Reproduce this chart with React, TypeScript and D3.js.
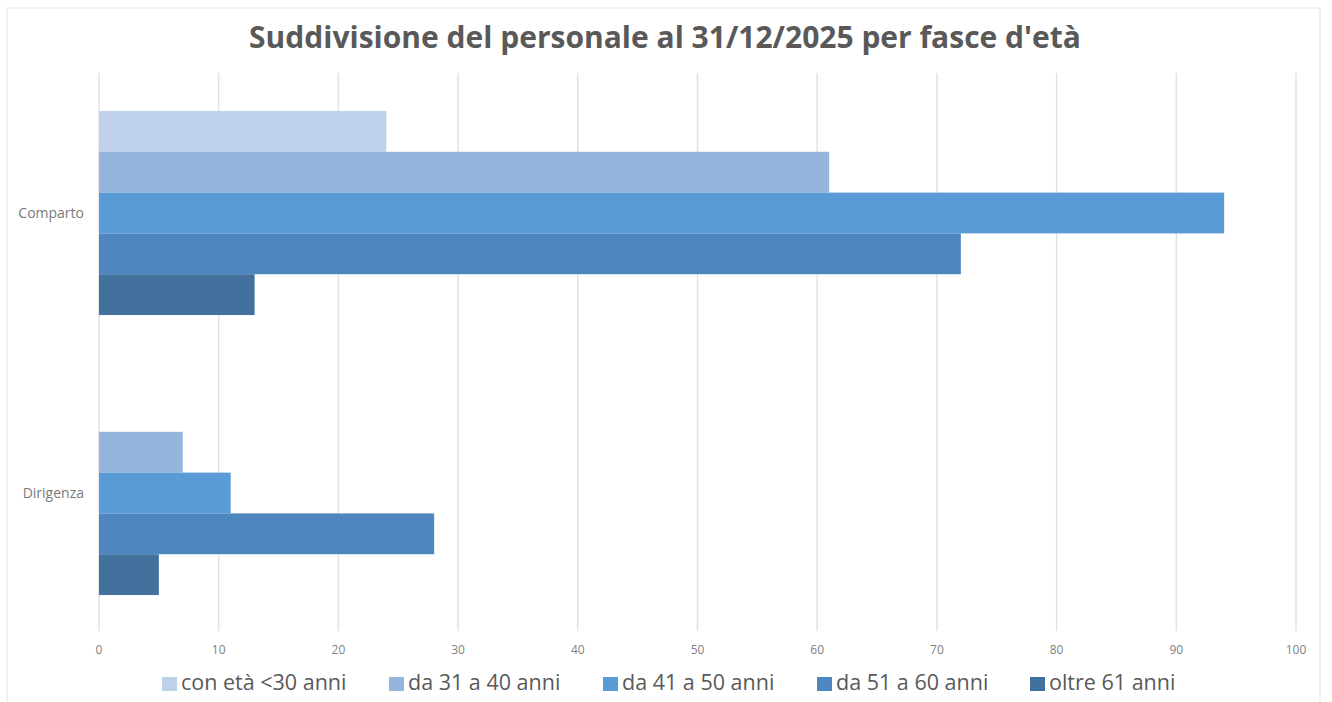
import React from "react";
import * as d3 from "d3";

const categories = ["Comparto", "Dirigenza"];
const seriesNames = ["con età <30 anni", "da 31 a 40 anni", "da 41 a 50 anni", "da 51 a 60 anni", "oltre 61 anni"];
const seriesColors = ["#bfd0ea", "#95b6dc", "#5b9bd5", "#4e87bf", "#41719c"];
const comparto = [24, 61, 94, 72, 13];
const dirigenza = [0, 7, 11, 28, 5];
const xTicks = [0, 10, 20, 30, 40, 50, 60, 70, 80, 90, 100];
const title = "Suddivisione del personale al 31/12/2025 per fasce d'età";

const W = 1332;
const H = 702;

export default function App() {
  const values = [comparto, dirigenza];
  const x = d3.scaleLinear().domain([0, 100]).range([99, 1296]);
  const y = d3.scaleBand<string>().domain(categories).range([73, 633]).paddingInner(0.2712).paddingOuter(0.1356);
  const yi = d3.scaleBand<number>().domain(d3.range(seriesNames.length)).range([0, y.bandwidth()]);

  const legendX = [162, 389, 603, 817, 1030];
  const font = "'Open Sans', sans-serif";

  return (
    <svg width={W} height={H} style={{ position: "absolute", left: 0, top: 0, background: "#fff" }}>
      <rect x={7} y={8} width={1313} height={700} fill="#fff" stroke="#e3e3e3" strokeWidth={1} />
      <text x={665} y={48} textAnchor="middle" fontFamily={font} fontWeight={700} fontSize={30} fill="#595959">
        {title}
      </text>
      {xTicks.map((t) => (
        <g key={t}>
          <line x1={x(t)} x2={x(t)} y1={73} y2={631} stroke="#e2e2e2" strokeWidth={1.5} />
          <text x={x(t)} y={654} textAnchor="middle" fontFamily={font} fontSize={12} fill="#808080">
            {t}
          </text>
        </g>
      ))}
      {categories.map((c, ci) => (
        <g key={c}>
          <text x={84} y={(y(c) as number) + y.bandwidth() / 2 + 5} textAnchor="end" fontFamily={font} fontSize={14} fill="#7a7a7a">
            {c}
          </text>
          {values[ci].map((v, si) =>
            v > 0 ? (
              <rect
                key={si}
                x={x(0)}
                y={(y(c) as number) + (yi(si) as number)}
                width={x(v) - x(0)}
                height={yi.bandwidth()}
                fill={seriesColors[si]}
              />
            ) : null
          )}
        </g>
      ))}
      {seriesNames.map((s, i) => (
        <g key={s}>
          <rect x={legendX[i]} y={677} width={15} height={14} fill={seriesColors[i]} />
          <text x={legendX[i] + 19} y={690} fontFamily={font} fontSize={21.5} fill="#595959">
            {s}
          </text>
        </g>
      ))}
    </svg>
  );
}
